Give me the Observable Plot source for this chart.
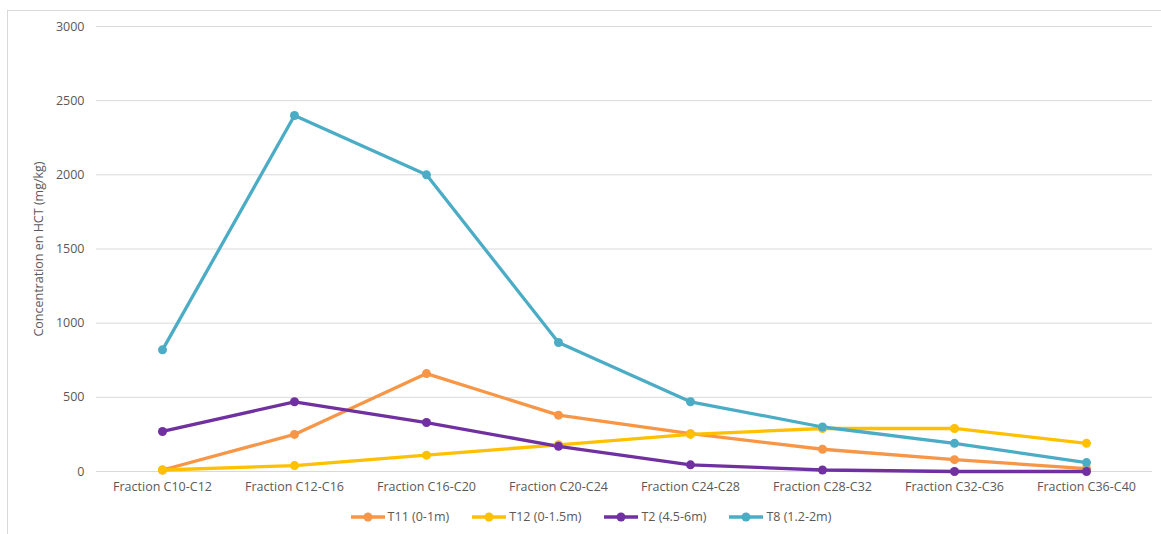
<!DOCTYPE html>
<html>
<head>
<meta charset="utf-8">
<script src="https://cdn.jsdelivr.net/npm/d3@7"></script>
<script src="https://cdn.jsdelivr.net/npm/@observablehq/plot@0.6"></script>
<style>
  html, body { margin: 0; padding: 0; background: #fff; width: 1161px; height: 534px; overflow: hidden; font-family: "Open Sans", sans-serif; }
  #frame { position: absolute; left: 7px; top: 10px; width: 1170px; height: 540px; border: 1px solid #d9d9d9; box-sizing: border-box; }
  #chart { position: absolute; left: 0; top: 0; }
  #legend { position: absolute; top: 508px; left: 0; width: 1161px; display: flex; justify-content: center; padding-left: 20px; box-sizing: border-box; font-size: 12.5px; color: #595959; line-height: 18px; }
  .item { display: flex; align-items: center; margin: 0 11px; }
  .item svg { margin-right: 2px; }
</style>
</head>
<body>
<div id="frame"></div>
<div id="chart"></div>
<div id="legend"></div>
<script>
const categories = ["Fraction C10-C12","Fraction C12-C16","Fraction C16-C20","Fraction C20-C24","Fraction C24-C28","Fraction C28-C32","Fraction C32-C36","Fraction C36-C40"];
const seriesNames = ["T11 (0-1m)","T12 (0-1.5m)","T2 (4.5-6m)","T8 (1.2-2m)"];
const seriesColors = ["#F79646","#FFC000","#7030A0","#4BACC6"];
const T11 = [10, 250, 660, 380, 255, 150, 80, 20];
const T12 = [10, 40, 110, 180, 250, 290, 290, 190];
const T2  = [270, 470, 330, 170, 45, 10, 0, 0];
const T8  = [820, 2400, 2000, 870, 470, 300, 190, 60];
const yTicks = [0, 500, 1000, 1500, 2000, 2500, 3000];
const yLabel = "Concentration en HCT (mg/kg)";

const allSeries = [T11, T12, T2, T8];
const data = [];
allSeries.forEach((vals, si) => vals.forEach((v, i) => data.push({series: seriesNames[si], cat: categories[i], value: v})));

const chart = Plot.plot({
  width: 1161,
  height: 500,
  marginLeft: 96,
  marginRight: 9,
  marginTop: 26,
  marginBottom: 29,
  style: {fontFamily: "'Open Sans', sans-serif", fontSize: "12.5px", color: "#595959", background: "transparent"},
  x: {type: "point", domain: categories, padding: 0.5, label: null},
  y: {domain: [0, 3000], label: null},
  color: {domain: seriesNames, range: seriesColors},
  marks: [
    Plot.ruleY(yTicks, {stroke: "#d9d9d9", strokeWidth: 1}),
    Plot.axisY({ticks: yTicks, tickFormat: d => String(d), tickSize: 0, tickPadding: 12, label: null, fontSize: 12.5, fill: "#595959"}),
    Plot.axisX({tickSize: 0, tickPadding: 11, label: null, fontSize: 12.5, fill: "#595959"}),
    Plot.line(data, {x: "cat", y: "value", z: "series", stroke: "series", strokeWidth: 3.3, strokeLinejoin: "round"}),
    Plot.dot(data, {x: "cat", y: "value", fill: "series", r: 4.5}),
    Plot.text([yLabel], {frameAnchor: "left", textAnchor: "middle", dx: -58, rotate: -90, fontSize: 12.5, fill: "#595959"})
  ]
});
document.getElementById("chart").appendChild(chart);

const legend = document.getElementById("legend");
seriesNames.forEach((name, i) => {
  const item = document.createElement("div");
  item.className = "item";
  item.innerHTML = `<svg width="36" height="12"><line x1="1" y1="6" x2="35" y2="6" stroke="${seriesColors[i]}" stroke-width="3.3"/><circle cx="18" cy="6" r="4.5" fill="${seriesColors[i]}"/></svg><span>${name}</span>`;
  legend.appendChild(item);
});
</script>
</body>
</html>
